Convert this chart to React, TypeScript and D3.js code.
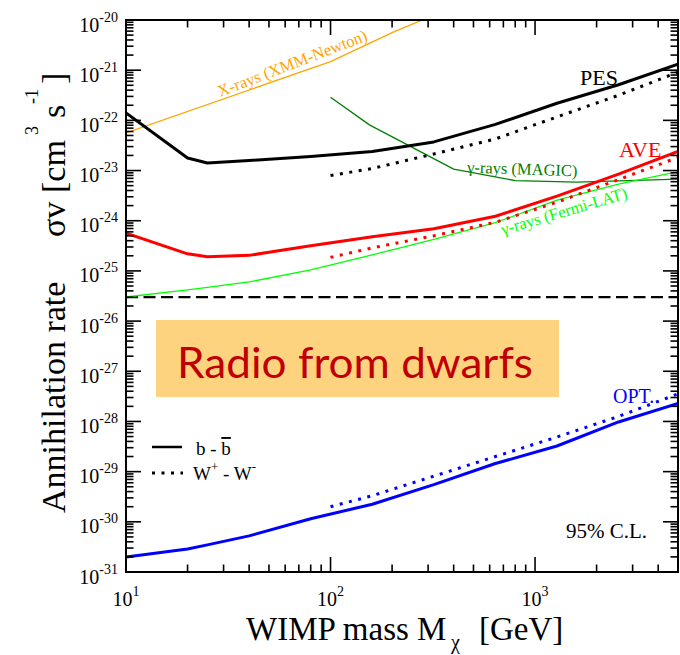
import React from "react";
import * as d3 from "d3";

// ---------- data ----------
const MASS = [10, 20, 25, 40, 80, 160, 320, 640, 1280, 2560, 5000];
const MASS_WW = [100, 160, 320, 640, 1280, 2560, 5000];

const PES_BB = [1.41e-22, 1.78e-23, 1.41e-23, 1.58e-23, 1.91e-23, 2.4e-23, 3.72e-23, 8.32e-23, 2.19e-22, 5.13e-22, 1.32e-21];
const PES_WW = [7.94e-24, 1.1e-23, 2.14e-23, 4.27e-23, 1.17e-22, 3.16e-22, 9.12e-22];

const AVE_BB = [5.62e-25, 2.19e-25, 1.91e-25, 2.04e-25, 3.16e-25, 4.79e-25, 6.92e-25, 1.23e-24, 3.09e-24, 8.51e-24, 2.4e-23];
const AVE_WW = [1.86e-25, 2.88e-25, 5.01e-25, 9.33e-25, 2.34e-24, 6.61e-24, 1.82e-23];

const OPT_BB = [2.0e-31, 2.88e-31, 3.47e-31, 5.25e-31, 1.15e-30, 2.24e-30, 5.5e-30, 1.45e-29, 3.24e-29, 9.77e-29, 2.29e-28];
const OPT_WW = [2.0e-30, 3.31e-30, 8.13e-30, 2.0e-29, 4.9e-29, 1.26e-28, 3.55e-28];

const FERMI = [3.02e-26, 4.17e-26, 4.68e-26, 6.03e-26, 1.05e-25, 2.09e-25, 4.27e-25, 9.12e-25, 2.57e-24, 5.37e-24, 9.55e-24];

const MAGIC_MASS = [100, 155, 400, 800, 1600, 5000];
const MAGIC = [2.88e-22, 8.13e-23, 1.07e-23, 6.31e-24, 5.89e-24, 6.76e-24];

const XRAY_MASS = [10, 100, 200, 300];
const XRAY = [5.62e-23, 1.48e-21, 5.62e-21, 1.12e-20];

const THERMAL = 3e-26;

const X_DOMAIN = [10, 5000];
const Y_DOMAIN = [1e-31, 1e-20];
const X_TICK_EXP = [1, 2, 3];
const Y_TICK_EXP = [-20, -21, -22, -23, -24, -25, -26, -27, -28, -29, -30, -31];

// ---------- layout ----------
const W = 680;
const H = 655;
const L = 126, R = 678, T = 20, B = 572;
const SERIF = "'Liberation Serif', 'Times New Roman', serif";

const x = d3.scaleLog().domain(X_DOMAIN).range([L, R]);
const y = d3.scaleLog().domain(Y_DOMAIN).range([B, T]);

const line = d3
  .line<[number, number]>()
  .x((d) => x(d[0]))
  .y((d) => y(d[1]));

const path = (xs: number[], ys: number[]) =>
  line(xs.map((m, i) => [m, ys[i]] as [number, number])) || "";

const DOT = "3 6.5";

export default function App() {
  const xMinor: number[] = [];
  for (let e = 1; e <= 3; e++) {
    for (let k = 2; k <= 9; k++) {
      const v = k * Math.pow(10, e);
      if (v < X_DOMAIN[1]) xMinor.push(v);
    }
  }
  const yMinor: number[] = [];
  for (let e = -31; e < -20; e++) {
    for (let k = 2; k <= 9; k++) yMinor.push(k * Math.pow(10, e));
  }
  const MAJ = 15, MIN = 7.5;

  return (
    <svg
      width={W}
      height={H}
      viewBox={`0 0 ${W} ${H}`}
      style={{ position: "absolute", left: 0, top: 0, background: "#fff" }}
      fontFamily={SERIF}
    >
      <defs>
        <clipPath id="plot">
          <rect x={L} y={T} width={R - L} height={B - T} />
        </clipPath>
      </defs>
      <rect x={0} y={0} width={W} height={H} fill="#fff" />

      {/* Radio box */}
      <rect x={156} y={320} width={403} height={77} fill="#FDD37F" />
      <text
        x={177}
        y={378}
        fontFamily="Lato, 'Open Sans', sans-serif"
        fontSize={43}
        fill="#C00000"
        textLength={356}
        lengthAdjust="spacingAndGlyphs"
      >
        Radio from dwarfs
      </text>

      <g clipPath="url(#plot)" fill="none" strokeLinejoin="round">
        {/* thermal relic */}
        <line
          x1={L}
          x2={R}
          y1={y(THERMAL)}
          y2={y(THERMAL)}
          stroke="#000"
          strokeWidth={2.4}
          strokeDasharray="12 5.5"
        />
        <path d={path(XRAY_MASS, XRAY)} stroke="#FFA500" strokeWidth={1.3} />
        <path d={path(MAGIC_MASS, MAGIC)} stroke="#008000" strokeWidth={1.3} />
        <path d={path(MASS, FERMI)} stroke="#00FF00" strokeWidth={1.3} />

        <path d={path(MASS, PES_BB)} stroke="#000" strokeWidth={3} />
        <path d={path(MASS_WW, PES_WW)} stroke="#000" strokeWidth={3} strokeDasharray={DOT} />
        <path d={path(MASS, AVE_BB)} stroke="#FF0000" strokeWidth={3} />
        <path d={path(MASS_WW, AVE_WW)} stroke="#FF0000" strokeWidth={3} strokeDasharray={DOT} />
        <path d={path(MASS, OPT_BB)} stroke="#0000FF" strokeWidth={3} />
        <path d={path(MASS_WW, OPT_WW)} stroke="#0000FF" strokeWidth={3} strokeDasharray={DOT} />
      </g>

      {/* ticks */}
      <g stroke="#000" strokeWidth={1.6}>
        {X_TICK_EXP.map((e) => {
          const px = x(Math.pow(10, e));
          return (
            <g key={"xM" + e}>
              <line x1={px} x2={px} y1={B} y2={B - MAJ} />
              <line x1={px} x2={px} y1={T} y2={T + MAJ} />
            </g>
          );
        })}
        {xMinor.map((v) => {
          const px = x(v);
          return (
            <g key={"xm" + v}>
              <line x1={px} x2={px} y1={B} y2={B - MIN} />
              <line x1={px} x2={px} y1={T} y2={T + MIN} />
            </g>
          );
        })}
        {Y_TICK_EXP.map((e) => {
          const py = y(Math.pow(10, e));
          return (
            <g key={"yM" + e}>
              <line x1={L} x2={L + MAJ} y1={py} y2={py} />
              <line x1={R} x2={R - MAJ} y1={py} y2={py} />
            </g>
          );
        })}
        {yMinor.map((v, i) => {
          const py = y(v);
          return (
            <g key={"ym" + i}>
              <line x1={L} x2={L + MIN} y1={py} y2={py} />
              <line x1={R} x2={R - MIN} y1={py} y2={py} />
            </g>
          );
        })}
      </g>

      {/* frame */}
      <rect x={L} y={T} width={R - L} height={B - T} fill="none" stroke="#000" strokeWidth={2} />

      {/* y tick labels */}
      {Y_TICK_EXP.map((e) => (
        <text key={"yl" + e} x={118} y={y(Math.pow(10, e)) + 11.5} textAnchor="end" fontSize={20} fill="#000">
          10
          <tspan dy={-10} fontSize={14}>
            {String(e)}
          </tspan>
        </text>
      ))}

      {/* x tick labels */}
      {X_TICK_EXP.map((e) => (
        <text key={"xl" + e} x={x(Math.pow(10, e))} y={606} textAnchor="middle" fontSize={20} fill="#000">
          10
          <tspan dy={-10} fontSize={14}>
            {String(e)}
          </tspan>
        </text>
      ))}

      {/* x title */}
      <text y={640} fontSize={33} fill="#000" style={{ whiteSpace: "pre" }}>
        <tspan x={246}>WIMP mass M</tspan>
        <tspan x={451} dy={9} fontSize={20}>
          χ
        </tspan>
        <tspan x={479} dy={-9}>
          [GeV]
        </tspan>
      </text>

      {/* y title */}
      <g transform="translate(65,0) rotate(-90)">
        <text y={0} fontSize={34} fill="#000" style={{ whiteSpace: "pre" }}>
          <tspan x={-513}>Annihilation rate</tspan>
          <tspan x={-237}>σv</tspan>
          <tspan x={-193}>[cm</tspan>
          <tspan x={-135} dy={-27} fontSize={18}>
            3
          </tspan>
          <tspan x={-118} dy={27}>
            s
          </tspan>
          <tspan x={-104} dy={-27} fontSize={18}>
            -1
          </tspan>
          <tspan x={-84} dy={27}>
            ]
          </tspan>
        </text>
      </g>

      {/* curve labels */}
      <text x={580} y={85} fontSize={22} fill="#000">PES</text>
      <text x={619} y={157} fontSize={22} fill="#FF0000">AVE</text>
      <text x={613} y={403} fontSize={20} fill="#0000FF">OPT.</text>
      <text x={566} y={538} fontSize={21} fill="#000">95% C.L.</text>

      <text transform="translate(220,97) rotate(-21)" fontSize={16.5} fill="#FFA500">
        X-rays (XMM-Newton)
      </text>
      <text transform="translate(467,172.5) rotate(2)" fontSize={16.5} fill="#008000">
        γ-rays (MAGIC)
      </text>
      <text transform="translate(503,235) rotate(-16.5)" fontSize={16.5} fill="#00FF00">
        γ-rays (Fermi-LAT)
      </text>

      {/* legend */}
      <line x1={152} x2={182} y1={447} y2={447} stroke="#000" strokeWidth={2.5} />
      <text x={196} y={455} fontSize={19} fill="#000" style={{ whiteSpace: "pre" }}>
        {"b - "}
        <tspan textDecoration="overline" style={{ textDecoration: "overline" }}>b</tspan>
      </text>
      <line x1={152} x2={183} y1={473} y2={473} stroke="#000" strokeWidth={3} strokeDasharray={DOT} />
      <text x={193} y={480} fontSize={19} fill="#000" style={{ whiteSpace: "pre" }}>
        W
        <tspan dy={-9} fontSize={13}>+</tspan>
        <tspan dy={9}>{" - W"}</tspan>
        <tspan dy={-9} fontSize={13}>-</tspan>
      </text>
    </svg>
  );
}
